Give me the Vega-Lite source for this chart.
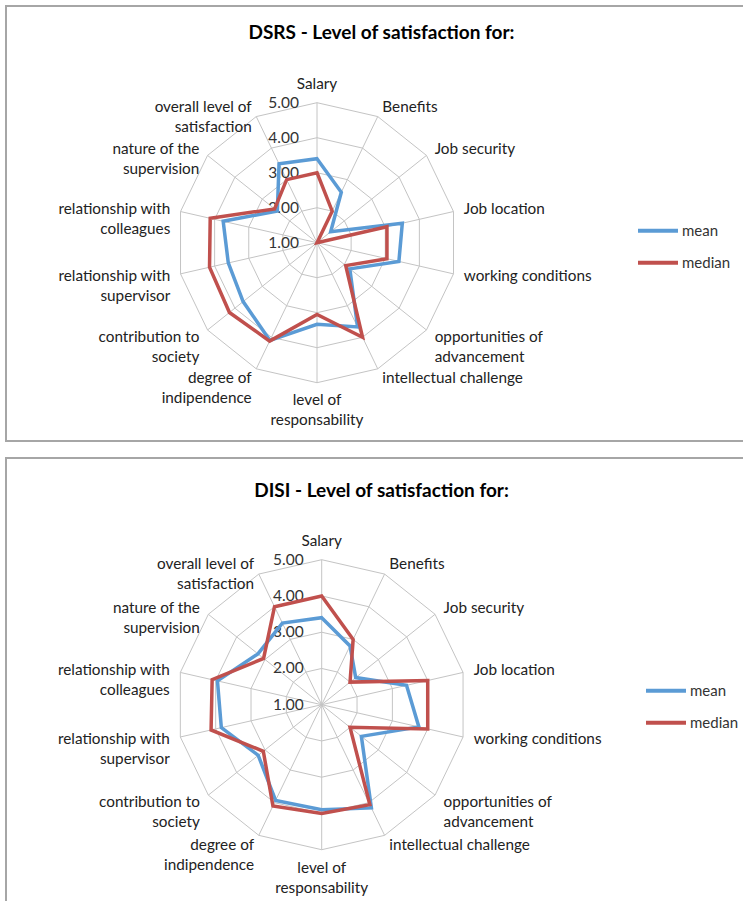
{
  "$schema": "https://vega.github.io/schema/vega-lite/v6.json",
  "padding": {"left": 5, "top": 5, "right": 0, "bottom": 0},
  "spacing": 15,
  "config": {
    "view": {"stroke": "#a6a6a6", "strokeWidth": 2},
    "font": "Lato",
    "text": {"font": "Lato"}
  },
  "datasets": {
    "cats": [
      {"k": 0, "name": "Salary"},
      {"k": 1, "name": "Benefits"},
      {"k": 2, "name": "Job security"},
      {"k": 3, "name": "Job location"},
      {"k": 4, "name": "working conditions"},
      {"k": 5, "name": "opportunities of\nadvancement"},
      {"k": 6, "name": "intellectual challenge"},
      {"k": 7, "name": "level of\nresponsability"},
      {"k": 8, "name": "degree of\nindipendence"},
      {"k": 9, "name": "contribution to\nsociety"},
      {"k": 10, "name": "relationship with\nsupervisor"},
      {"k": 11, "name": "relationship with\ncolleagues"},
      {"k": 12, "name": "nature of the\nsupervision"},
      {"k": 13, "name": "overall level of\nsatisfaction"}
    ],
    "levels": [{"level": 1}, {"level": 2}, {"level": 3}, {"level": 4}, {"level": 5}],
    "dsrs": [
      {"k": 0, "series": "mean", "value": 3.4},
      {"k": 1, "series": "mean", "value": 2.6},
      {"k": 2, "series": "mean", "value": 1.5},
      {"k": 3, "series": "mean", "value": 3.5},
      {"k": 4, "series": "mean", "value": 3.4},
      {"k": 5, "series": "mean", "value": 2.2},
      {"k": 6, "series": "mean", "value": 3.67},
      {"k": 7, "series": "mean", "value": 3.33},
      {"k": 8, "series": "mean", "value": 4.1},
      {"k": 9, "series": "mean", "value": 3.7},
      {"k": 10, "series": "mean", "value": 3.6},
      {"k": 11, "series": "mean", "value": 3.75},
      {"k": 12, "series": "mean", "value": 2.45},
      {"k": 13, "series": "mean", "value": 3.5},
      {"k": 0, "series": "median", "value": 3.0},
      {"k": 1, "series": "median", "value": 2.0},
      {"k": 2, "series": "median", "value": 1.0},
      {"k": 3, "series": "median", "value": 3.05},
      {"k": 4, "series": "median", "value": 3.05},
      {"k": 5, "series": "median", "value": 2.05},
      {"k": 6, "series": "median", "value": 4.0},
      {"k": 7, "series": "median", "value": 3.05},
      {"k": 8, "series": "median", "value": 4.12},
      {"k": 9, "series": "median", "value": 4.2},
      {"k": 10, "series": "median", "value": 4.15},
      {"k": 11, "series": "median", "value": 4.13},
      {"k": 12, "series": "median", "value": 2.55},
      {"k": 13, "series": "median", "value": 3.0}
    ],
    "disi": [
      {"k": 0, "series": "mean", "value": 3.4},
      {"k": 1, "series": "mean", "value": 2.8},
      {"k": 2, "series": "mean", "value": 2.2},
      {"k": 3, "series": "mean", "value": 3.4},
      {"k": 4, "series": "mean", "value": 3.75},
      {"k": 5, "series": "mean", "value": 2.4},
      {"k": 6, "series": "mean", "value": 4.16},
      {"k": 7, "series": "mean", "value": 3.9},
      {"k": 8, "series": "mean", "value": 3.93},
      {"k": 9, "series": "mean", "value": 3.24},
      {"k": 10, "series": "mean", "value": 3.84},
      {"k": 11, "series": "mean", "value": 3.95},
      {"k": 12, "series": "mean", "value": 3.25},
      {"k": 13, "series": "mean", "value": 3.5},
      {"k": 0, "series": "median", "value": 4.0},
      {"k": 1, "series": "median", "value": 3.0},
      {"k": 2, "series": "median", "value": 2.0},
      {"k": 3, "series": "median", "value": 4.0},
      {"k": 4, "series": "median", "value": 4.0},
      {"k": 5, "series": "median", "value": 2.0},
      {"k": 6, "series": "median", "value": 4.06},
      {"k": 7, "series": "median", "value": 4.0},
      {"k": 8, "series": "median", "value": 4.1},
      {"k": 9, "series": "median", "value": 3.06},
      {"k": 10, "series": "median", "value": 4.13},
      {"k": 11, "series": "median", "value": 4.1},
      {"k": 12, "series": "median", "value": 3.05},
      {"k": 13, "series": "median", "value": 4.0}
    ]
  },
  "vconcat": [
    {
      "width": 745,
      "height": 435,
      "title": {"text": "DSRS - Level of satisfaction for:", "frame": "group", "anchor": "middle", "offset": -46, "baseline": "middle", "dx": 3, "font": "Lato", "fontSize": 19, "fontWeight": "bold", "color": "#000000"},
      "encoding": {
        "x": {"field": "x", "type": "quantitative", "scale": {"domain": [-8.886, 12.4], "nice": false, "zero": false}, "axis": null},
        "y": {"field": "y", "type": "quantitative", "scale": {"domain": [-5.666, 6.763], "nice": false, "zero": false}, "axis": null}
      },
      "layer": [
        {
          "data": {"name": "cats"},
          "transform": [
            {"calculate": "4*sin(2*PI*datum.k/14)", "as": "x"},
            {"calculate": "4*cos(2*PI*datum.k/14)", "as": "y"}
          ],
          "mark": {"type": "rule", "stroke": "#c4c4c4", "strokeWidth": 1},
          "encoding": {"x2": {"datum": 0}, "y2": {"datum": 0}}
        },
        {
          "data": {"name": "cats"},
          "transform": [
            {"calculate": "[1,2,3,4]", "as": "lv"},
            {"flatten": ["lv"]},
            {"calculate": "datum.lv*sin(2*PI*datum.k/14)", "as": "x"},
            {"calculate": "datum.lv*cos(2*PI*datum.k/14)", "as": "y"}
          ],
          "mark": {"type": "line", "stroke": "#c4c4c4", "strokeWidth": 1, "interpolate": "linear-closed"},
          "encoding": {"detail": {"field": "lv", "type": "nominal"}, "order": {"field": "k", "type": "quantitative"}}
        },
        {
          "data": {"name": "levels"},
          "transform": [
            {"calculate": "0", "as": "x"},
            {"calculate": "datum.level-1", "as": "y"}
          ],
          "mark": {"type": "text", "align": "right", "baseline": "middle", "dx": -18, "fontSize": 15.5, "color": "#333333"},
          "encoding": {"text": {"field": "level", "type": "quantitative", "format": ".2f"}}
        },
        {
          "data": {"name": "dsrs"},
          "transform": [
            {"calculate": "(datum.value-1)*sin(2*PI*datum.k/14)", "as": "x"},
            {"calculate": "(datum.value-1)*cos(2*PI*datum.k/14)", "as": "y"}
          ],
          "mark": {"type": "line", "strokeWidth": 3.5, "interpolate": "linear-closed"},
          "encoding": {
            "color": {"field": "series", "type": "nominal", "scale": {"domain": ["mean", "median"], "range": ["#5b9bd5", "#c0504d"]},
              "legend": {"orient": "none", "legendX": 640, "legendY": 212.7, "title": null, "symbolType": "M-2,0H2", "symbolSize": 400, "symbolStrokeWidth": 4, "labelFont": "Lato", "labelFontSize": 15, "labelColor": "#333333", "labelOffset": 12, "rowPadding": 12}},
            "order": {"field": "k", "type": "quantitative"}
          }
        },
        {
          "data": {"name": "cats"},
          "transform": [
            {"calculate": "4.3*sin(2*PI*datum.k/14)", "as": "x"},
            {"calculate": "4.3*cos(2*PI*datum.k/14)", "as": "y"}
          ],
          "mark": {"type": "text", "fontSize": 15.3, "color": "#222222", "lineBreak": "\n", "lineHeight": 20,
            "align": {"expr": "datum.x > 0.3 ? 'left' : (datum.x < -0.3 ? 'right' : 'center')"},
            "baseline": {"expr": "abs(datum.x) > 0.3 ? 'middle' : (datum.y > 0 ? 'bottom' : 'top')"}},
          "encoding": {"text": {"field": "name", "type": "nominal"}}
        }
      ]
    },
    {
      "width": 745,
      "height": 450,
      "title": {"text": "DISI - Level of satisfaction for:", "frame": "group", "anchor": "middle", "offset": -52, "baseline": "middle", "dx": 3, "font": "Lato", "fontSize": 19, "fontWeight": "bold", "color": "#000000"},
      "encoding": {
        "x": {"field": "x", "type": "quantitative", "scale": {"domain": [-8.709, 11.843], "nice": false, "zero": false}, "axis": null},
        "y": {"field": "y", "type": "quantitative", "scale": {"domain": [-5.608, 6.806], "nice": false, "zero": false}, "axis": null}
      },
      "layer": [
        {
          "data": {"name": "cats"},
          "transform": [
            {"calculate": "4*sin(2*PI*datum.k/14)", "as": "x"},
            {"calculate": "4*cos(2*PI*datum.k/14)", "as": "y"}
          ],
          "mark": {"type": "rule", "stroke": "#c4c4c4", "strokeWidth": 1},
          "encoding": {"x2": {"datum": 0}, "y2": {"datum": 0}}
        },
        {
          "data": {"name": "cats"},
          "transform": [
            {"calculate": "[1,2,3,4]", "as": "lv"},
            {"flatten": ["lv"]},
            {"calculate": "datum.lv*sin(2*PI*datum.k/14)", "as": "x"},
            {"calculate": "datum.lv*cos(2*PI*datum.k/14)", "as": "y"}
          ],
          "mark": {"type": "line", "stroke": "#c4c4c4", "strokeWidth": 1, "interpolate": "linear-closed"},
          "encoding": {"detail": {"field": "lv", "type": "nominal"}, "order": {"field": "k", "type": "quantitative"}}
        },
        {
          "data": {"name": "levels"},
          "transform": [
            {"calculate": "0", "as": "x"},
            {"calculate": "datum.level-1", "as": "y"}
          ],
          "mark": {"type": "text", "align": "right", "baseline": "middle", "dx": -18, "fontSize": 15.5, "color": "#333333"},
          "encoding": {"text": {"field": "level", "type": "quantitative", "format": ".2f"}}
        },
        {
          "data": {"name": "disi"},
          "transform": [
            {"calculate": "(datum.value-1)*sin(2*PI*datum.k/14)", "as": "x"},
            {"calculate": "(datum.value-1)*cos(2*PI*datum.k/14)", "as": "y"}
          ],
          "mark": {"type": "line", "strokeWidth": 3.5, "interpolate": "linear-closed"},
          "encoding": {
            "color": {"field": "series", "type": "nominal", "scale": {"domain": ["mean", "median"], "range": ["#5b9bd5", "#c0504d"]},
              "legend": {"orient": "none", "legendX": 648, "legendY": 220.7, "title": null, "symbolType": "M-2,0H2", "symbolSize": 400, "symbolStrokeWidth": 4, "labelFont": "Lato", "labelFontSize": 15, "labelColor": "#333333", "labelOffset": 12, "rowPadding": 12}},
            "order": {"field": "k", "type": "quantitative"}
          }
        },
        {
          "data": {"name": "cats"},
          "transform": [
            {"calculate": "4.3*sin(2*PI*datum.k/14)", "as": "x"},
            {"calculate": "4.3*cos(2*PI*datum.k/14)", "as": "y"}
          ],
          "mark": {"type": "text", "fontSize": 15.3, "color": "#222222", "lineBreak": "\n", "lineHeight": 20,
            "align": {"expr": "datum.x > 0.3 ? 'left' : (datum.x < -0.3 ? 'right' : 'center')"},
            "baseline": {"expr": "abs(datum.x) > 0.3 ? 'middle' : (datum.y > 0 ? 'bottom' : 'top')"}},
          "encoding": {"text": {"field": "name", "type": "nominal"}}
        }
      ]
    }
  ],
  "resolve": {"scale": {"x": "independent", "y": "independent", "color": "independent"}}
}
